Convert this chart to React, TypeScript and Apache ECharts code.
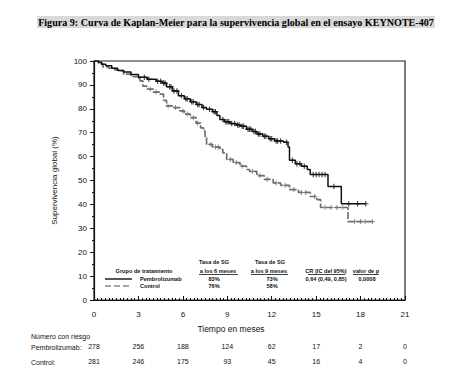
import React, { useEffect, useRef } from "react";
import * as echarts from "echarts";

const titleText = "Figura 9: Curva de Kaplan-Meier para la supervivencia global en el ensayo KEYNOTE-407";
const xTicks = [0, 3, 6, 9, 12, 15, 18, 21];
const riskPembro = [278, 256, 188, 124, 62, 17, 2, 0];
const riskControl = [281, 246, 175, 93, 45, 16, 4, 0];

// Kaplan-Meier steps: [month, survival %]
const kmPembro: [number, number][] = [
  [0, 100], [0.3, 99.5], [0.5, 98.6], [0.8, 98], [1.2, 97], [1.6, 96], [2.0, 95.4],
  [2.5, 94.3], [3.0, 93.2], [3.6, 92.4], [4.2, 91.5], [4.6, 90.8], [4.9, 89.2],
  [5.3, 87.5], [5.7, 85.5], [6.1, 84.2], [6.5, 83], [6.9, 81.8], [7.3, 80.5],
  [7.6, 79.8], [8.0, 78.8], [8.3, 77.2], [8.5, 75.5], [8.8, 74.6], [9.2, 73.8],
  [9.6, 73.2], [9.9, 72.7], [10.3, 71.4], [10.7, 70.5], [11.0, 69.5], [11.4, 68.5],
  [11.8, 67.5], [12.2, 66.5], [12.8, 66], [13.1, 64], [13.2, 58.5], [13.6, 57],
  [14.0, 56], [14.4, 54.6], [14.6, 52.5], [15.8, 47.5], [16.7, 40.3], [18.35, 40.3],
];
const kmControl: [number, number][] = [
  [0, 100], [0.3, 99], [0.6, 97.5], [1.0, 97], [1.4, 96.3], [1.75, 96], [2.0, 94.5],
  [2.5, 93.5], [3.1, 91.7], [3.3, 89.5], [3.56, 88.2], [4.0, 87], [4.46, 86.1],
  [4.7, 83.5], [4.9, 81.2], [5.3, 80.5], [5.8, 79.1], [6.1, 77.8], [6.5, 76.3],
  [6.9, 74], [7.2, 72], [7.4, 70.7], [7.5, 68], [7.6, 65.1], [8.0, 64], [8.5, 63],
  [8.7, 61.5], [8.96, 58.8], [9.4, 57.5], [9.86, 56], [10.3, 54.6], [10.5, 53.8],
  [11.0, 52], [11.5, 50.5], [12.1, 49], [12.6, 48], [13.2, 46.2], [13.8, 45],
  [14.6, 43.3], [15.05, 42], [15.3, 38.7], [17.15, 32.8], [18.8, 32.8],
];
const censorPembro = [
  3.4, 3.7, 4.3, 4.5, 4.7, 4.8, 5.1, 5.2, 5.4, 5.6, 5.9, 6.2, 6.3, 6.6, 6.7, 7.0, 7.1,
  7.4, 7.8, 8.1, 8.2, 8.7, 8.9, 9.0, 9.1, 9.3, 9.5, 9.7, 9.8, 10.0, 10.1, 10.4, 10.5,
  10.6, 10.8, 10.9, 11.1, 11.2, 11.5, 11.6, 11.9, 12.0, 12.3, 12.4, 12.6, 13.0, 13.4,
  13.7, 13.9, 14.2, 14.8, 15.0, 15.2, 15.4, 15.6, 16.2, 17.2, 17.8, 18.35,
];
const censorControl = [
  3.0, 3.8, 4.2, 5.0, 5.5, 6.0, 6.3, 6.7, 7.0, 7.9, 8.2, 8.4, 9.2, 9.6, 10.0, 10.7,
  11.2, 11.7, 12.3, 12.9, 13.5, 14.0, 14.3, 14.9, 15.6, 16.0, 16.4, 16.8, 17.6, 18.0,
  18.3, 18.8,
];

function kmAt(curve: [number, number][], t: number): number {
  let v = curve[0][1];
  for (const [x, y] of curve) {
    if (x <= t) v = y;
    else break;
  }
  return v;
}

const FONT = "Liberation Sans, Arial, sans-serif";
const PLUS = "path://M4,0H6V4H10V6H6V10H4V6H0V4H4Z";

export default function App() {
  const ref = useRef<HTMLDivElement>(null);
  useEffect(() => {
    if (!ref.current) return;
    const chart = echarts.init(ref.current, null, { renderer: "svg" });
    const small = { fontFamily: FONT, fontSize: 5.6, fontWeight: "bold" as const, fill: "#111" };
    const txt = (x: number, y: number, text: string, align = "center", extra: any = {}) => ({
      type: "text",
      x,
      y,
      style: { ...small, text, align, verticalAlign: "middle", ...extra },
    });
    const uline = (x1: number, x2: number, y: number) => ({
      type: "line",
      shape: { x1, y1: y, x2, y2: y },
      style: { stroke: "#111", lineWidth: 0.8 },
    });
    const riskAxis = (vals: number[], margin: number) => ({
      type: "value",
      min: 0,
      max: 21,
      interval: 3,
      position: "bottom",
      offset: 0,
      axisLine: { show: false },
      axisTick: { show: false },
      splitLine: { show: false },
      axisLabel: {
        margin,
        fontFamily: FONT,
        fontSize: 7,
        color: "#111",
        showMinLabel: true,
        showMaxLabel: true,
        formatter: (v: number) => String(vals[Math.round(v / 3)]),
      },
    });
    chart.setOption({
      animation: false,
      backgroundColor: "#fff",
      grid: {
        left: 94,
        right: 58,
        top: 61,
        bottom: 85,
        show: true,
        borderColor: "#222",
        borderWidth: 1.2,
      },
      xAxis: [
        {
          type: "value",
          min: 0,
          max: 21,
          interval: 3,
          axisLine: { show: true, lineStyle: { color: "#111", width: 1.2 } },
          axisTick: { show: true, inside: true, length: 4, lineStyle: { color: "#111" } },
          minorTick: { show: true, splitNumber: 12, length: 2, lineStyle: { color: "#111" } },
          splitLine: { show: false },
          axisLabel: {
            margin: 10,
            fontFamily: FONT,
            fontSize: 8,
            color: "#111",
            showMinLabel: true,
            showMaxLabel: true,
          },
        },
        riskAxis(riskPembro, 43),
        riskAxis(riskControl, 58),
      ],
      yAxis: {
        type: "value",
        min: 0,
        max: 100,
        interval: 10,
        name: "Supervivencia global (%)",
        nameLocation: "middle",
        nameGap: 36,
        nameTextStyle: { fontFamily: FONT, fontSize: 8, color: "#111" },
        axisLine: { show: true, lineStyle: { color: "#111", width: 1.2 } },
        axisTick: { show: true, length: 4, lineStyle: { color: "#111" } },
        minorTick: { show: true, splitNumber: 2, length: 2, lineStyle: { color: "#111" } },
        splitLine: { show: false },
        axisLabel: { margin: 7, fontFamily: FONT, fontSize: 8, color: "#111" },
      },
      series: [
        {
          name: "Control",
          type: "line",
          step: "end",
          data: kmControl,
          showSymbol: false,
          symbol: "none",
          lineStyle: { color: "#6f6f6f", width: 1.7, type: [7, 2] },
          z: 2,
        },
        {
          name: "Control censor",
          type: "scatter",
          data: censorControl.map((t) => [t, kmAt(kmControl, t)]),
          symbol: PLUS,
          symbolSize: 5,
          itemStyle: { color: "#6f6f6f" },
          z: 3,
        },
        {
          name: "Pembrolizumab",
          type: "line",
          step: "end",
          data: kmPembro,
          showSymbol: false,
          symbol: "none",
          lineStyle: { color: "#111", width: 1.5 },
          z: 4,
        },
        {
          name: "Pembro censor",
          type: "scatter",
          data: censorPembro.map((t) => [t, kmAt(kmPembro, t)]),
          symbol: PLUS,
          symbolSize: 5.5,
          itemStyle: { color: "#111" },
          z: 5,
        },
      ],
      graphic: [
        {
          type: "text",
          x: 236,
          y: 22,
          style: {
            text: titleText,
            fontFamily: "Liberation Serif, Times New Roman, serif",
            fontWeight: "bold",
            fontSize: 10.1,
            fill: "#000",
            align: "center",
            verticalAlign: "middle",
            backgroundColor: "#d9d9d9",
            padding: [1, 1, 1, 1],
          },
        },
        txt(144, 271, "Grupo de tratamiento"),
        {
          type: "line",
          shape: { x1: 105, y1: 279, x2: 132, y2: 279 },
          style: { stroke: "#111", lineWidth: 1.4 },
        },
        {
          type: "line",
          shape: { x1: 105, y1: 286, x2: 132, y2: 286 },
          style: { stroke: "#8a8a8a", lineWidth: 1.4, lineDash: [6, 3] },
        },
        txt(140, 279, "Pembrolizumab", "left"),
        txt(140, 286, "Control", "left"),
        txt(214, 262, "Tasa de SG"),
        txt(218, 271, "a los 6 meses"),
        uline(199, 238, 274.5),
        txt(214, 279, "83%"),
        txt(214, 286, "76%"),
        txt(270, 262, "Tasa de SG"),
        txt(269, 271, "a los 9 meses"),
        uline(251, 288, 274.5),
        txt(272, 279, "73%"),
        txt(272, 286, "58%"),
        txt(326, 271, "CR (IC del 95%)"),
        uline(308, 345, 274.5),
        txt(326, 279, "0,64 (0,49, 0,85)"),
        txt(366, 271, "valor de p"),
        uline(353, 379, 274.5),
        txt(367, 279, "0,0008"),
        {
          type: "text",
          x: 231,
          y: 329,
          style: {
            text: "Tiempo en meses",
            fontFamily: FONT,
            fontSize: 8.5,
            fill: "#111",
            align: "center",
            verticalAlign: "middle",
          },
        },
        {
          type: "text",
          x: 31,
          y: 336,
          style: { text: "Número con riesgo", fontFamily: FONT, fontSize: 7, fill: "#111", verticalAlign: "middle" },
        },
        {
          type: "text",
          x: 31,
          y: 347,
          style: { text: "Pembrolizumab:", fontFamily: FONT, fontSize: 7, fill: "#111", verticalAlign: "middle" },
        },
        {
          type: "text",
          x: 31,
          y: 362,
          style: { text: "Control:", fontFamily: FONT, fontSize: 7, fill: "#111", verticalAlign: "middle" },
        },
      ],
    });
    return () => chart.dispose();
  }, []);
  return (
    <div
      ref={ref}
      style={{ position: "fixed", left: 0, top: 0, width: 463, height: 385, background: "#fff" }}
    />
  );
}
